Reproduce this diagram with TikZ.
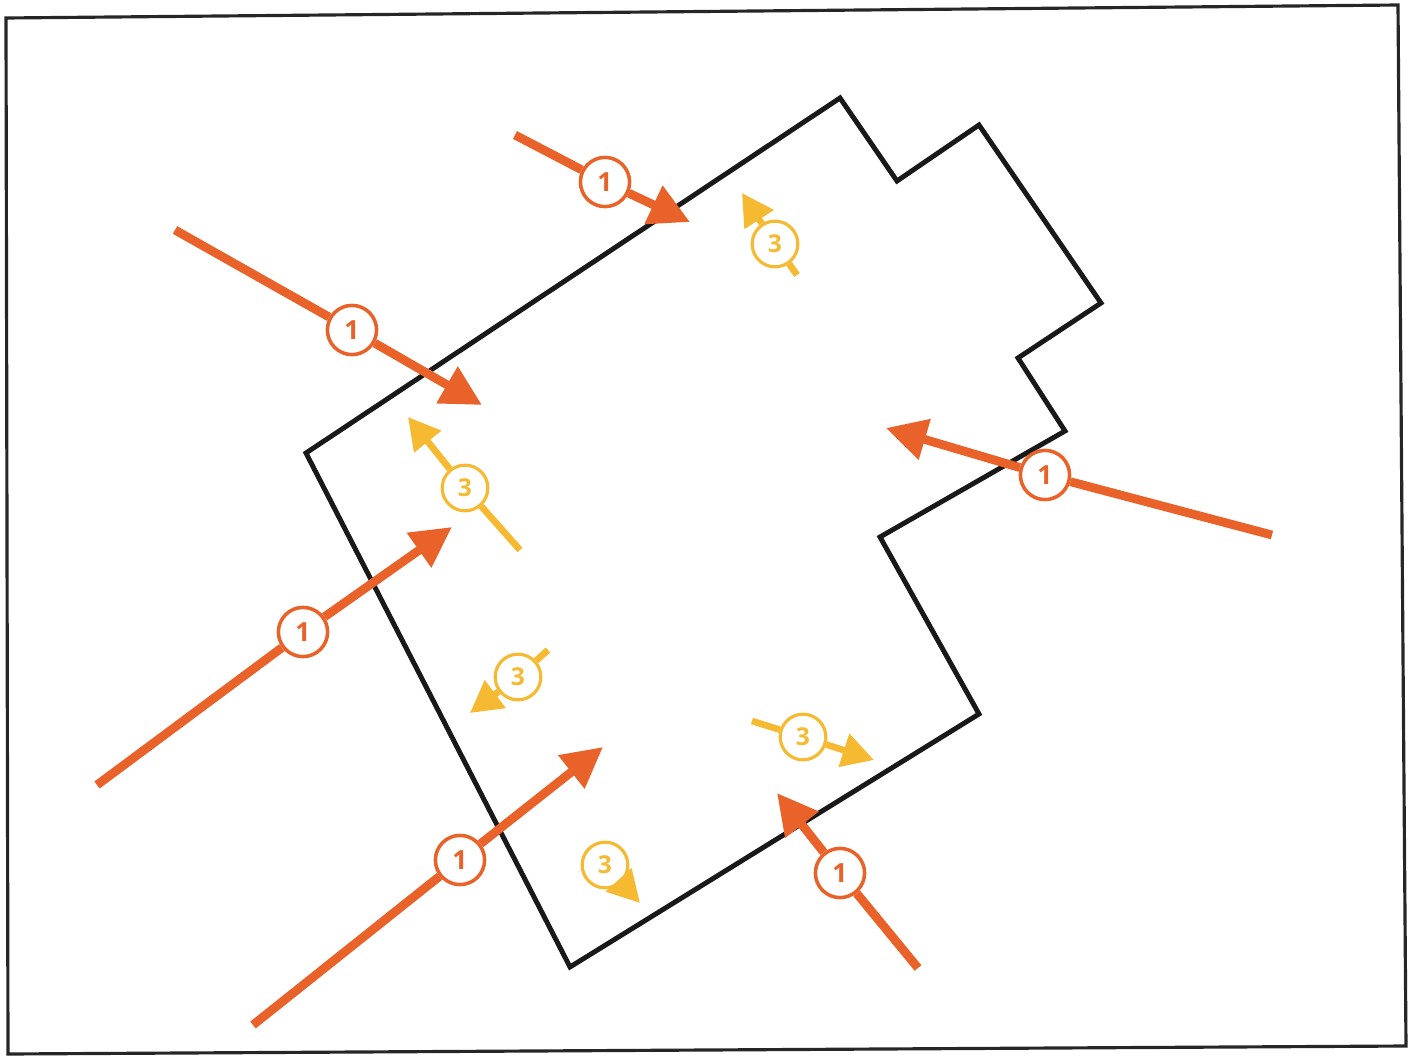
\documentclass[tikz,border=0pt]{standalone}
\usepackage{fontspec}
\setmainfont{Open Sans}
\usetikzlibrary{arrows.meta}
\definecolor{orng}{HTML}{E8622A}
\definecolor{ylw}{HTML}{F5BA32}
\tikzset{
  oline/.style={draw=orng, line width=5pt},
  oarrow/.style={oline, -{Triangle[length=23pt,width=23pt]}},
  yline/.style={draw=ylw, line width=3.8pt},
  yarrow/.style={yline, -{Triangle[length=18pt,width=19pt]}},
  olab/.style={circle, draw=orng, line width=2pt, fill=white, minimum size=28pt, inner sep=0pt, text=orng, font=\fontsize{15}{15}\selectfont\bfseries},
  ylab/.style={circle, draw=ylw, line width=1.8pt, fill=white, minimum size=26pt, inner sep=0pt, text=ylw, font=\fontsize{14}{14}\selectfont\bfseries},
  bldg/.style={draw=black!90, line width=2.8pt, line join=miter},
  frame/.style={draw=black!85, line width=1.8pt}
}
\begin{document}
\begin{tikzpicture}[x=0.02cm,y=-0.02cm]
\useasboundingbox (0,0) rectangle (1414,1058);
% frame
\draw[frame] (6,18) -- (1398,5) -- (1406,1046) -- (8,1054) -- cycle;
% building outline
\draw[bldg] (306,453) -- (840,98) -- (897,181) -- (979,125) -- (1101,303) -- (1018,358) -- (1065,431) -- (880,537) -- (979,714) -- (570,967) -- cycle;
% orange arrows (1)
\coordinate (ot1) at (515,135); \coordinate (oh1) at (690,222);
\coordinate (ot2) at (175,230); \coordinate (oh2) at (482,405);
\coordinate (ot3) at (1272,535); \coordinate (oh3) at (886,428);
\coordinate (ot4) at (97,785); \coordinate (oh4) at (452,527);
\coordinate (ot5) at (253,1025); \coordinate (oh5) at (603,747);
\coordinate (ot6) at (918,968); \coordinate (oh6) at (777,793);
\node[olab] (oc1) at (605,182) {1};
\node[olab] (oc2) at (352,330) {1};
\node[olab] (oc3) at (1045,475) {1};
\node[olab] (oc4) at (303,632) {1};
\node[olab] (oc5) at (460,860) {1};
\node[olab] (oc6) at (840,873) {1};
\foreach \i in {1,...,6} {
  \draw[oline] (ot\i) -- (oc\i);
  \draw[oarrow] (oc\i) -- (oh\i);
}
% yellow arrows (3)
\coordinate (yt1) at (797,275); \coordinate (yh1) at (742,193);
\coordinate (yt2) at (520,550); \coordinate (yh2) at (408,417);
\coordinate (yt3) at (548,650); \coordinate (yh3) at (470,713);
\coordinate (yt4) at (752,721); \coordinate (yh4) at (874,760);
\coordinate (yh5) at (640,903);
\node[ylab] (yc1) at (775,244) {3};
\node[ylab] (yc2) at (465,488) {3};
\node[ylab] (yc3) at (518,677) {3};
\node[ylab] (yc4) at (803,737) {3};
\node[ylab] (yc5) at (605,865) {3};
\foreach \i in {1,...,4} {
  \draw[yline] (yt\i) -- (yc\i);
  \draw[yarrow] (yc\i) -- (yh\i);
}
\draw[yarrow] (yc5) -- (yh5);
\end{tikzpicture}
\end{document}
